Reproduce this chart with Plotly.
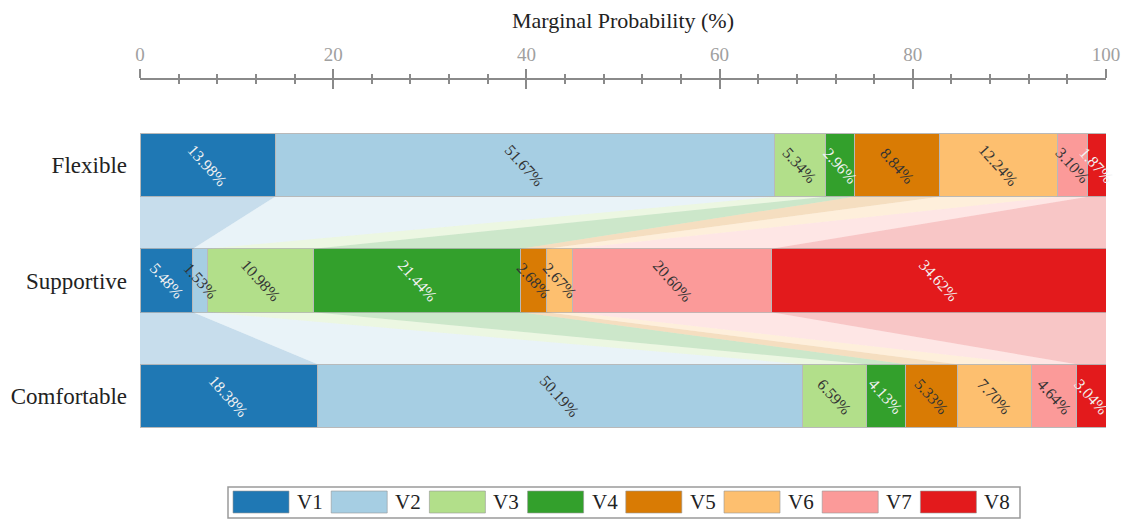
import plotly.graph_objects as go

categories = ["Flexible", "Supportive", "Comfortable"]
series = ["V1", "V2", "V3", "V4", "V5", "V6", "V7", "V8"]
colors = ["#1f78b4", "#a6cee3", "#b2df8a", "#33a02c", "#d97b04", "#fdbf6f", "#fb9a99", "#e31a1c"]
band_rgb = [(31, 120, 180), (166, 206, 227), (178, 223, 138), (51, 160, 44),
            (217, 123, 4), (253, 191, 111), (251, 154, 153), (227, 26, 28)]
text_colors = ["#f2f2f2", "#333333", "#333333", "#f2f2f2", "#333333", "#333333", "#333333", "#f2f2f2"]

values = {
    "Flexible":    [13.98, 51.67, 5.34, 2.96, 8.84, 12.24, 3.10, 1.87],
    "Supportive":  [5.48, 1.53, 10.98, 21.44, 2.68, 2.67, 20.60, 34.62],
    "Comfortable": [18.38, 50.19, 6.59, 4.13, 5.33, 7.70, 4.64, 3.04],
}

FONT = "Liberation Serif, Times New Roman, serif"
BAR_W = 0.55
H = BAR_W / 2

W, HGT = 1125, 520
ML, MT = 140, 80
PW, PH = 966, 360

lefts = {}
for c in categories:
    acc = 0.0
    l = []
    for v in values[c]:
        l.append(acc)
        acc += v
    lefts[c] = l

fig = go.Figure()

# connecting bands
for r in range(len(categories) - 1):
    ca, cb = categories[r], categories[r + 1]
    for i in range(len(series)):
        a0 = lefts[ca][i]
        a1 = a0 + values[ca][i]
        b0 = lefts[cb][i]
        b1 = b0 + values[cb][i]
        rr, gg, bb = band_rgb[i]
        fig.add_trace(go.Scatter(
            x=[a0, a1, b1, b0, a0],
            y=[r + H, r + H, r + 1 - H, r + 1 - H, r + H],
            mode="lines", fill="toself",
            fillcolor=f"rgba({rr},{gg},{bb},0.25)",
            line=dict(width=0), hoverinfo="skip", showlegend=False,
        ))

# bars
for i, s in enumerate(series):
    fig.add_trace(go.Bar(
        name=s, orientation="h",
        x=[values[c][i] for c in categories],
        y=list(range(len(categories))),
        width=BAR_W,
        marker=dict(color=colors[i], line=dict(color="rgba(185,185,185,1)", width=1)),
        showlegend=False,
    ))

# value labels
annotations = []
for r, c in enumerate(categories):
    for i in range(len(series)):
        v = values[c][i]
        annotations.append(dict(
            x=lefts[c][i] + v / 2, y=r, xref="x", yref="y",
            text=f"{v:.2f}%", showarrow=False, textangle=48,
            font=dict(family=FONT, size=16, color=text_colors[i]),
        ))

# manual legend (pixel positions in the screenshot)
def px2x(px):
    return (px - ML) / PW

def py2y(py):
    return (MT + PH - py) / PH

shapes = [dict(type="rect", xref="paper", yref="paper",
               x0=px2x(228), x1=px2x(1020), y0=py2y(518), y1=py2y(487),
               line=dict(color="#9a9a9a", width=1.5), fillcolor="white")]
for i, s in enumerate(series):
    sx = 233 + i * 98.2
    shapes.append(dict(type="rect", xref="paper", yref="paper",
                       x0=px2x(sx), x1=px2x(sx + 56), y0=py2y(513), y1=py2y(491),
                       line=dict(color="rgba(150,150,150,0.6)", width=1), fillcolor=colors[i]))
    annotations.append(dict(x=px2x(sx + 62), y=py2y(502), xref="paper", yref="paper",
                            text=s, showarrow=False, xanchor="left", yanchor="middle",
                            font=dict(family=FONT, size=21, color="#222222")))

fig.update_layout(
    barmode="stack",
    width=W, height=HGT,
    margin=dict(l=ML, r=W - ML - PW, t=MT, b=HGT - MT - PH, autoexpand=False),
    paper_bgcolor="white", plot_bgcolor="white",
    font=dict(family=FONT),
    annotations=annotations,
    shapes=shapes,
    xaxis=dict(
        range=[0, 100], side="top", showgrid=False, zeroline=False, automargin=False,
        showline=True, linecolor="#8a8a8a", linewidth=2,
        tickmode="array", tickvals=[0, 20, 40, 60, 80, 100],
        ticks="outside", ticklen=9, tickwidth=2, tickcolor="#8a8a8a",
        minor=dict(dtick=4, ticks="outside", ticklen=4, tickwidth=1.5, tickcolor="#8a8a8a"),
        tickfont=dict(family=FONT, size=19, color="#a0a0a0"),
        title=dict(text="Marginal Probability (%)", standoff=10,
                   font=dict(family=FONT, size=22, color="#222222")),
    ),
    xaxis2=dict(
        range=[0, 100], overlaying="x", side="top", showgrid=False, zeroline=False,
        showline=False, showticklabels=False, automargin=False,
        tickmode="array", tickvals=[0, 20, 40, 60, 80, 100],
        ticks="inside", ticklen=9, tickwidth=2, tickcolor="#8a8a8a",
        minor=dict(dtick=4, ticks="inside", ticklen=4, tickwidth=1.5, tickcolor="#8a8a8a"),
    ),
    yaxis=dict(
        range=[2.381, -0.736], showgrid=False, zeroline=False, showline=False, automargin=False,
        tickmode="array", tickvals=list(range(len(categories))), ticktext=categories,
        ticks="", ticklabelstandoff=12,
        tickfont=dict(family=FONT, size=23, color="#222222"),
    ),
)

fig.add_trace(go.Scatter(x=[0], y=[0], xaxis="x2", mode="markers",
                         marker=dict(opacity=0), hoverinfo="skip", showlegend=False))

fig.write_html("out.html",
               config={"displayModeBar": False},
               post_script="document.body.style.margin='0px';document.body.style.overflow='hidden';")
